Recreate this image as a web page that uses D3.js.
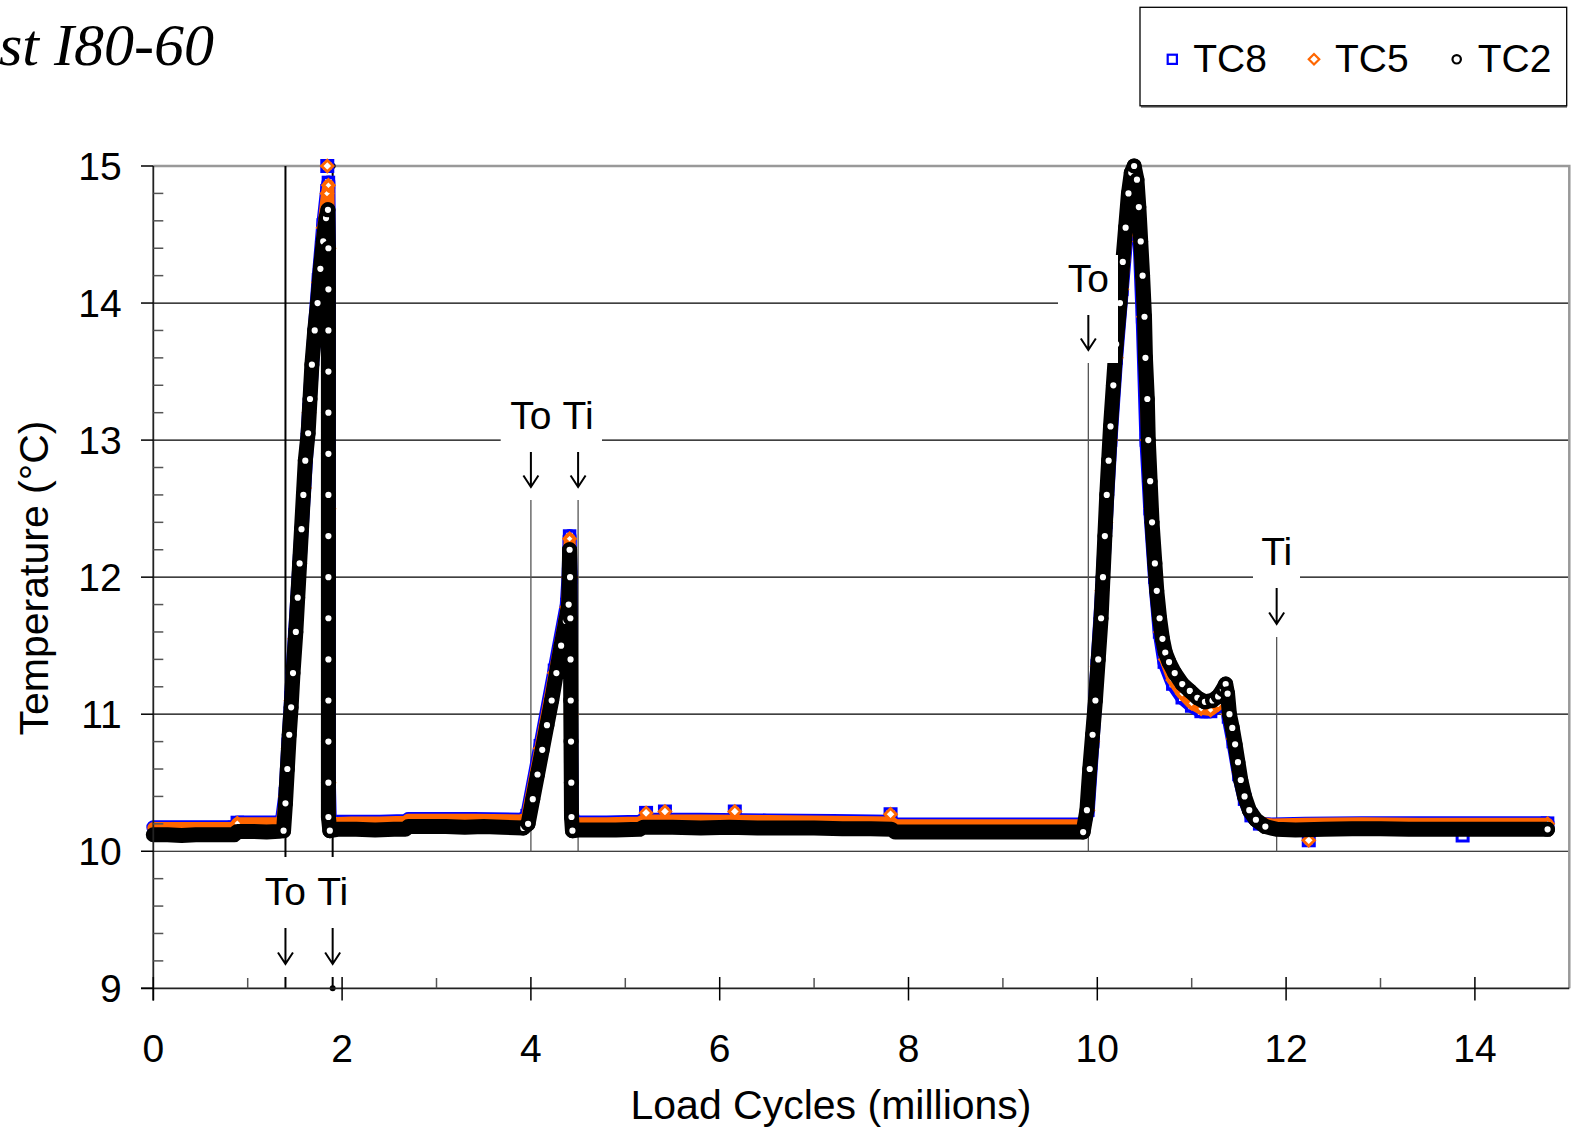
<!DOCTYPE html>
<html><head><meta charset="utf-8">
<script src="https://cdn.jsdelivr.net/npm/d3@7"></script>
<style>
body{margin:0;background:#fff;}
svg{display:block;}
text{font-family:"Liberation Sans", Arial, sans-serif;}
</style></head><body>
<svg id="chart" width="1572" height="1132"></svg>
<script>
// ---------- DATA (load cycles in millions, temperature in °C) ----------
const tc8 = [
 [0.00,10.175],[0.30,10.175],[0.60,10.175],[0.86,10.175],[0.89,10.21],[1.10,10.21],[1.36,10.21],
 [1.40,10.42],[1.43,10.78],[1.46,11.12],[1.50,11.58],[1.55,12.12],[1.60,12.66],[1.65,13.22],[1.70,13.72],[1.75,14.17],[1.80,14.57],[1.84,14.82],[1.855,14.88],[1.86,14.4],[1.86,12.5],[1.86,10.5],[1.87,10.215],
 [2.10,10.215],[2.40,10.215],[2.67,10.22],[2.70,10.235],[3.00,10.235],[3.40,10.235],[3.90,10.23],
 [3.96,10.26],[4.10,10.77],[4.25,11.32],[4.38,11.80],[4.40,12.02],[4.41,12.30],[4.42,12.0],[4.425,11.0],[4.43,10.3],[4.45,10.21],
 [4.80,10.21],[5.15,10.215],[5.19,10.23],[5.80,10.23],[6.50,10.225],[7.20,10.22],[7.82,10.215],[7.86,10.195],[8.50,10.195],[9.20,10.195],[9.86,10.195],
 [9.90,10.30],[9.95,10.80],[10.00,11.35],[10.05,11.90],[10.09,12.40],[10.14,13.00],[10.20,13.60],[10.26,14.10],[10.31,14.50],[10.36,14.85],[10.39,14.95],[10.42,14.85],[10.45,14.42],[10.48,13.90],[10.52,13.00],[10.56,12.50],[10.61,12.00],[10.66,11.60],[10.71,11.38],[10.80,11.22],[10.90,11.12],[11.00,11.06],[11.10,11.02],[11.20,11.02],[11.28,11.06],[11.34,11.14],[11.36,11.19],[11.39,10.98],[11.44,10.80],[11.50,10.56],[11.56,10.38],[11.63,10.26],[11.72,10.20],[11.85,10.195],
 [12.20,10.20],[12.80,10.205],[13.40,10.205],[14.00,10.205],[14.77,10.205]
];
const tc5 = [
 [0.00,10.17],[0.30,10.17],[0.60,10.17],[0.86,10.17],[0.89,10.205],[1.10,10.205],[1.36,10.205],
 [1.40,10.40],[1.43,10.75],[1.46,11.10],[1.50,11.55],[1.55,12.10],[1.60,12.65],[1.65,13.20],[1.70,13.70],[1.75,14.15],[1.80,14.55],[1.84,14.80],[1.855,14.86],[1.86,14.4],[1.86,12.5],[1.86,10.5],[1.87,10.205],
 [2.10,10.21],[2.40,10.21],[2.67,10.215],[2.70,10.23],[3.00,10.23],[3.40,10.23],[3.90,10.225],
 [3.96,10.25],[4.10,10.75],[4.25,11.30],[4.38,11.78],[4.40,12.00],[4.41,12.28],[4.42,12.0],[4.425,11.0],[4.43,10.3],[4.45,10.205],
 [4.80,10.205],[5.15,10.21],[5.19,10.225],[5.80,10.225],[6.50,10.22],[7.20,10.215],[7.82,10.21],[7.86,10.19],[8.50,10.19],[9.20,10.19],[9.86,10.19],
 [9.90,10.30],[9.95,10.80],[10.00,11.35],[10.05,11.90],[10.09,12.40],[10.14,13.00],[10.20,13.60],[10.26,14.10],[10.31,14.50],[10.36,14.85],[10.39,14.95],[10.42,14.85],[10.45,14.45],[10.49,13.90],[10.53,13.00],[10.57,12.50],[10.62,12.00],[10.67,11.60],[10.72,11.40],[10.80,11.25],[10.90,11.15],[11.00,11.08],[11.10,11.04],[11.20,11.03],[11.28,11.07],[11.34,11.15],[11.36,11.20],[11.39,11.00],[11.44,10.82],[11.50,10.58],[11.56,10.40],[11.63,10.27],[11.72,10.21],[11.85,10.195],
 [12.20,10.20],[12.80,10.205],[13.40,10.20],[14.00,10.20],[14.77,10.20]
];
const tc2 = [
 [0.00,10.12],[0.15,10.12],[0.30,10.115],[0.45,10.12],[0.60,10.12],[0.75,10.12],[0.86,10.12],[0.89,10.145],[1.05,10.145],[1.20,10.14],[1.33,10.145],[1.38,10.15],
 [1.40,10.35],[1.42,10.60],[1.44,10.85],[1.46,11.05],[1.48,11.30],[1.51,11.60],[1.53,11.85],[1.55,12.10],[1.57,12.35],[1.59,12.60],[1.61,12.85],[1.64,13.05],[1.66,13.30],[1.68,13.55],[1.71,13.80],[1.74,14.00],[1.77,14.25],[1.80,14.45],[1.83,14.62],[1.85,14.68],
 [1.855,14.40],[1.855,14.10],[1.855,13.80],[1.855,13.50],[1.855,13.20],[1.855,12.90],[1.855,12.60],[1.855,12.30],[1.855,12.00],[1.855,11.70],[1.855,11.40],[1.855,11.10],[1.855,10.80],[1.855,10.50],[1.855,10.25],[1.87,10.15],
 [1.95,10.16],[2.15,10.16],[2.35,10.155],[2.55,10.16],[2.67,10.16],[2.70,10.18],[2.90,10.18],[3.10,10.18],[3.30,10.175],[3.50,10.18],[3.70,10.175],[3.92,10.17],
 [3.97,10.20],[4.02,10.38],[4.07,10.56],[4.12,10.74],[4.17,10.92],[4.22,11.10],[4.27,11.30],[4.32,11.50],[4.37,11.68],[4.40,11.80],[4.405,12.00],[4.41,12.20],[4.415,12.00],[4.418,11.70],[4.42,11.40],[4.422,11.10],[4.425,10.80],[4.428,10.50],[4.43,10.25],[4.44,10.15],
 [4.50,10.155],[4.70,10.155],[4.90,10.155],[5.15,10.16],[5.19,10.175],[5.50,10.175],[5.80,10.17],[6.10,10.175],[6.40,10.17],[6.70,10.17],[7.00,10.17],[7.30,10.165],[7.60,10.165],[7.82,10.16],[7.86,10.14],[8.10,10.14],[8.40,10.14],[8.70,10.14],[9.00,10.14],[9.30,10.14],[9.60,10.14],[9.85,10.14],
 [9.89,10.30],[9.92,10.60],[9.95,10.85],[9.98,11.10],[10.01,11.40],[10.04,11.70],[10.06,12.00],[10.08,12.30],[10.10,12.60],[10.12,12.85],[10.14,13.10],[10.17,13.40],[10.20,13.70],[10.24,14.00],[10.27,14.30],[10.30,14.55],[10.33,14.80],[10.36,14.95],[10.39,15.00],[10.42,14.90],[10.44,14.70],[10.46,14.45],[10.48,14.20],[10.50,13.90],[10.51,13.60],[10.53,13.30],[10.54,13.00],[10.56,12.70],[10.58,12.40],[10.61,12.10],[10.63,11.90],[10.66,11.70],[10.69,11.55],[10.72,11.45],[10.76,11.38],[10.82,11.30],[10.90,11.22],[10.98,11.17],[11.06,11.12],[11.14,11.09],[11.22,11.10],[11.28,11.13],[11.33,11.18],[11.36,11.22],[11.38,11.15],[11.40,11.00],[11.43,10.90],[11.46,10.78],[11.49,10.65],[11.52,10.52],[11.56,10.40],[11.61,10.30],[11.68,10.23],[11.78,10.18],[11.90,10.16],[12.10,10.155],
 [12.40,10.16],[12.70,10.165],[13.00,10.165],[13.30,10.16],[13.60,10.16],[13.90,10.16],[14.20,10.16],[14.50,10.16],[14.77,10.16]
];
const tc8Outliers = [[1.843,15.0],[5.22,10.28],[5.42,10.29],[6.16,10.29],[7.81,10.27],[12.24,10.08],[13.87,10.115]];
const tc5Outliers = [[1.843,15.0],[5.22,10.28],[5.42,10.29],[6.16,10.29],[7.81,10.27],[12.24,10.08]];

const yTicks = [9,10,11,12,13,14,15];
const yMinorTicks = d3.range(9, 15.001, 0.2);
const xTicks = [0,2,4,6,8,10,12,14];
const xMinorTicks = [1,3,5,7,9,11,13];

const annoCycles = [1.40, 1.90, 4.00, 4.50, 9.905, 11.90];
const annoLabels = ["To","Ti","To","Ti","To","Ti"];

const seriesNames = ["TC8","TC5","TC2"];
const seriesColors = ["#0000FF","#FF6600","#000000"];

// ---------- LAYOUT ----------
const svg = d3.select("#chart");
const x = d3.scaleLinear().domain([0,15]).range([153.3, 1569.3]);
const y = d3.scaleLinear().domain([9,15]).range([988.3, 166]);
const FS = 39;

// title (partially cut off at left, as in the source)
svg.append("text").attr("x", 214).attr("y", 65).attr("text-anchor","end")
  .style("font-family",'"Liberation Serif","Times New Roman",serif').style("font-style","italic")
  .style("font-size","60px").attr("fill","#000").text("Test I80-60");

// gridlines
svg.append("g").selectAll("line").data(yTicks.filter(d=>d>9 && d<15)).join("line")
  .attr("x1", x(0)).attr("x2", x(15)).attr("y1", d=>y(d)).attr("y2", d=>y(d))
  .attr("stroke","#000").attr("stroke-width",1.2);

// plot frame top/right (gray)
svg.append("path").attr("d", `M${x(0)},${y(15)} H${x(15)} V${y(9)}`)
  .attr("fill","none").attr("stroke","#999").attr("stroke-width",2.5);

// ---------- annotations: lines ----------
const annoLayout = [
  {text:905, arrowTop:928, arrowBot:964, segs:[[166,857],[977,988.3]], color:"#000", w:2, dots:false},
  {text:905, arrowTop:928, arrowBot:964, segs:[[166,857],[977,988.3]], color:"#000", w:2, dots:true},
  {text:428.5, arrowTop:452, arrowBot:487, segs:[[500,851.7]], color:"#555", w:1.3, dots:false},
  {text:428.5, arrowTop:452, arrowBot:487, segs:[[500,851.7]], color:"#555", w:1.3, dots:false},
  {text:291.5, arrowTop:315, arrowBot:350, segs:[[363,851.7]], color:"#555", w:1.3, dots:false},
  {text:565, arrowTop:588, arrowBot:624, segs:[[637,851.7]], color:"#555", w:1.3, dots:false}
];
const annoG = svg.append("g");
annoCycles.forEach((c,i)=>{
  const L = annoLayout[i];
  L.segs.forEach(s=>{
    annoG.append("line").attr("x1",x(c)).attr("x2",x(c)).attr("y1",s[0]).attr("y2",s[1])
      .attr("stroke",L.color).attr("stroke-width",L.w);
  });
  if (L.dots){
    annoG.append("circle").attr("cx",x(c)).attr("cy",y(15)).attr("r",3).attr("fill","#000");
  }
});

// ---------- series ----------
const line = d3.line().x(d=>x(d[0])).y(d=>y(d[1]));
const dataG = svg.append("g");

function markerShape(g, kind, color, size, sw){
  if (kind==="square"){
    g.append("rect").attr("x",-size).attr("y",-size).attr("width",2*size).attr("height",2*size)
      .attr("fill","#fff").attr("stroke",color).attr("stroke-width",sw);
  } else if (kind==="diamond"){
    g.append("path").attr("d",`M0,${-size*1.25}L${size*1.25},0L0,${size*1.25}L${-size*1.25},0Z`)
      .attr("fill","#fff").attr("stroke",color).attr("stroke-width",sw);
  } else {
    g.append("circle").attr("r",size).attr("fill","#fff").attr("stroke",color).attr("stroke-width",sw);
  }
}
function drawSeries(data, color, width, kind, msize, sw){
  dataG.append("path").datum(data).attr("d",line).attr("fill","none")
    .attr("stroke",color).attr("stroke-width",width)
    .attr("stroke-linejoin","round").attr("stroke-linecap","round");
  // markers where consecutive samples are separated vertically (steep parts), plus the last sample
  data.forEach((d,i)=>{
    const prev = data[i-1], next = data[i+1];
    const dyp = prev ? Math.abs(y(d[1])-y(prev[1])) : 0;
    const dyn = next ? Math.abs(y(d[1])-y(next[1])) : 0;
    if (Math.max(dyp,dyn) > 4 || i===data.length-1){
      const g = dataG.append("g").attr("transform",`translate(${x(d[0])},${y(d[1])})`);
      markerShape(g, kind, color, msize, sw);
    }
  });
}
function drawOutliers(data, color, kind, msize, sw){
  data.forEach(d=>{
    const g = dataG.append("g").attr("transform",`translate(${x(d[0])},${y(d[1])})`);
    markerShape(g, kind, color, msize, sw);
  });
}
drawSeries(tc8, seriesColors[0], 14, "square", 5, 3.5);
drawOutliers(tc8Outliers, seriesColors[0], "square", 5.5, 3);
drawSeries(tc5, seriesColors[1], 12, "diamond", 4.2, 3.5);
drawOutliers(tc5Outliers, seriesColors[1], "diamond", 4.6, 2.8);
drawSeries(tc2, seriesColors[2], 15, "circle", 5.3, 4.4);

// ---------- annotation boxes & labels (on top of data) ----------
const boxes = [[500.7,392,101.3,106],[1058,255,60,108],[1253,528,47,109]];
const labG = svg.append("g");
boxes.forEach(b=>{
  labG.append("rect").attr("x",b[0]).attr("y",b[1]).attr("width",b[2]).attr("height",b[3]).attr("fill","#fff");
});
annoCycles.forEach((c,i)=>{
  const L = annoLayout[i];
  const cx = x(c);
  labG.append("text").attr("x",cx).attr("y",L.text).attr("text-anchor","middle")
    .style("font-size",FS+"px").attr("fill","#000").text(annoLabels[i]);
  labG.append("path")
    .attr("d",`M${cx},${L.arrowTop}V${L.arrowBot}M${cx-7.5},${L.arrowBot-11.5}L${cx},${L.arrowBot}L${cx+7.5},${L.arrowBot-11.5}`)
    .attr("fill","none").attr("stroke","#000").attr("stroke-width",2);
});
labG.append("circle").attr("cx",x(annoCycles[1])).attr("cy",y(9)).attr("r",3).attr("fill","#000");

// ---------- axes ----------
const axG = svg.append("g");
axG.append("line").attr("x1",x(0)).attr("x2",x(0)).attr("y1",y(15)).attr("y2",1000.5)
  .attr("stroke","#222").attr("stroke-width",1.8);
axG.append("line").attr("x1",141).attr("x2",x(15)).attr("y1",y(9)).attr("y2",y(9))
  .attr("stroke","#222").attr("stroke-width",1.8);
axG.selectAll(".ymaj").data(yTicks).join("line").attr("class","ymaj")
  .attr("x1",141).attr("x2",x(0)).attr("y1",d=>y(d)).attr("y2",d=>y(d))
  .attr("stroke","#000").attr("stroke-width",1.5);
axG.selectAll(".ymin").data(yMinorTicks.filter(d=>Math.abs(d-Math.round(d))>0.01)).join("line").attr("class","ymin")
  .attr("x1",x(0)).attr("x2",x(0)+10).attr("y1",d=>y(d)).attr("y2",d=>y(d))
  .attr("stroke","#555").attr("stroke-width",1.5);
axG.selectAll(".xmaj").data(xTicks).join("line").attr("class","xmaj")
  .attr("x1",d=>x(d)).attr("x2",d=>x(d)).attr("y1",977).attr("y2",1000.5)
  .attr("stroke","#000").attr("stroke-width",1.5);
axG.selectAll(".xmin").data(xMinorTicks).join("line").attr("class","xmin")
  .attr("x1",d=>x(d)).attr("x2",d=>x(d)).attr("y1",978).attr("y2",y(9))
  .attr("stroke","#555").attr("stroke-width",1.5);
axG.selectAll(".ylab").data(yTicks).join("text").attr("class","ylab")
  .attr("x",121.7).attr("y",d=>y(d)+14).attr("text-anchor","end")
  .style("font-size",FS+"px").attr("fill","#000").text(d=>d);
axG.selectAll(".xlab").data(xTicks).join("text").attr("class","xlab")
  .attr("x",d=>x(d)).attr("y",1062).attr("text-anchor","middle")
  .style("font-size",FS+"px").attr("fill","#000").text(d=>d);
svg.append("text").attr("x",831).attr("y",1119).attr("text-anchor","middle")
  .style("font-size","41px").attr("fill","#000").text("Load Cycles (millions)");
svg.append("text").attr("transform","translate(48,578) rotate(-90)").attr("text-anchor","middle")
  .style("font-size","41px").attr("fill","#000").text("Temperature (°C)");

// ---------- legend ----------
const lg = svg.append("g");
lg.append("line").attr("x1",1141).attr("x2",1567).attr("y1",106.5).attr("y2",106.5).attr("stroke","#777").attr("stroke-width",2.5);
lg.append("rect").attr("x",1140).attr("y",7.3).attr("width",426.7).attr("height",98.5)
  .attr("fill","#fff").attr("stroke","#000").attr("stroke-width",1.3);
const legX = [1172.3, 1314, 1456.7];
const legKinds = ["square","diamond","circle"];
seriesNames.forEach((n,i)=>{
  const g = lg.append("g").attr("transform",`translate(${legX[i]},59.3)`);
  if (legKinds[i]==="square") markerShape(g,"square",seriesColors[i],4.6,2.2);
  else if (legKinds[i]==="diamond") markerShape(g,"diamond",seriesColors[i],4.2,2.2);
  else markerShape(g,"circle",seriesColors[i],4.2,2.2);
  lg.append("text").attr("x",legX[i]+21).attr("y",71.7).style("font-size",FS+"px").attr("fill","#000").text(n);
});
</script>
</body></html>
